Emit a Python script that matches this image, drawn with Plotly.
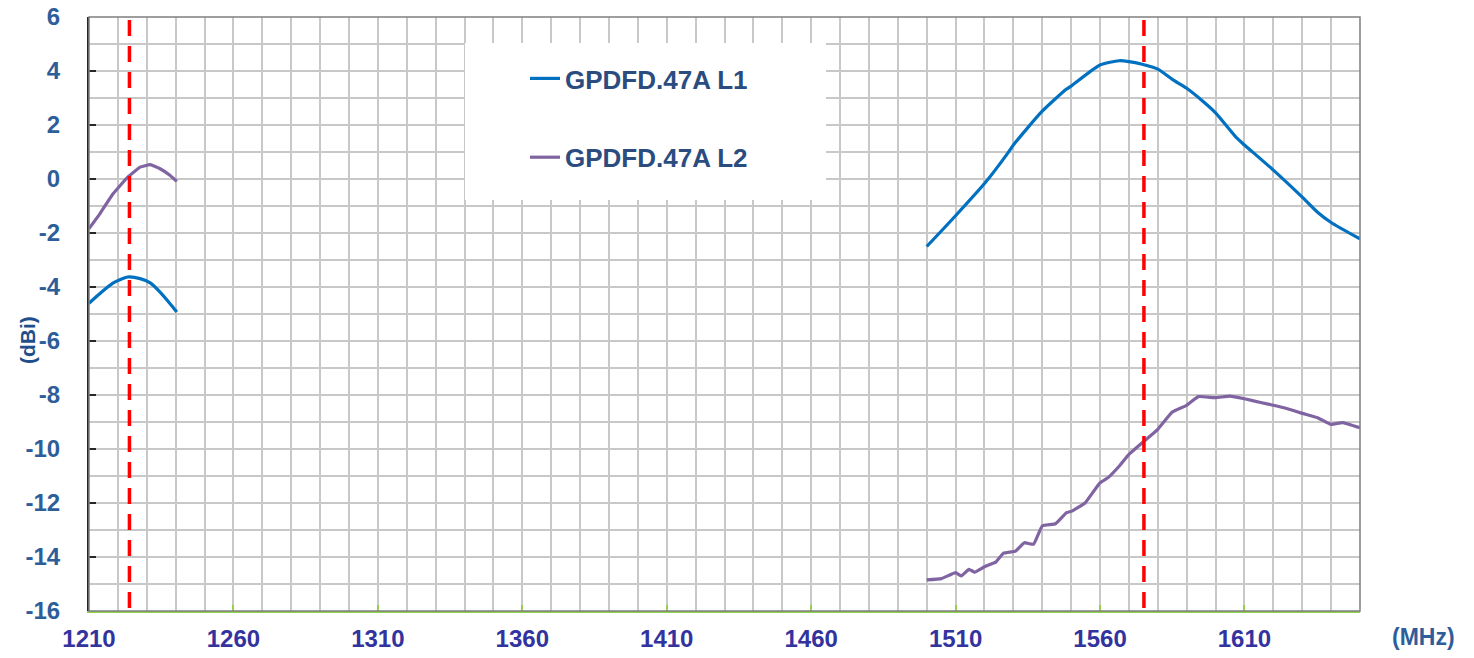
import plotly.graph_objects as go

# ---- data ----
freq_low = [1210, 1213.8, 1218.4, 1223.4, 1227.7, 1231.2, 1234.6, 1238, 1240.4]
l1_low = [-4.60, -4.24, -3.85, -3.63, -3.69, -3.85, -4.19, -4.61, -4.93]
l2_low = [-1.84, -1.28, -0.54, 0.07, 0.44, 0.53, 0.38, 0.14, -0.09]

freq_l1_high = [1500, 1510, 1520, 1528, 1530, 1540, 1548.3, 1550, 1560, 1566.6, 1570,
                1574.6, 1580, 1585, 1590, 1595.6, 1600, 1607.4, 1610, 1620, 1630,
                1635.3, 1640, 1650]
l1_high = [-2.50, -1.36, -0.17, 0.95, 1.26, 2.51, 3.32, 3.44, 4.22, 4.38, 4.35,
           4.25, 4.07, 3.69, 3.36, 2.88, 2.45, 1.51, 1.26, 0.33, -0.67,
           -1.23, -1.61, -2.22]

freq_l2_high = [1500, 1505.1, 1510, 1512, 1514.6, 1516.6, 1520, 1523.9, 1526.6, 1530.8,
                1533.8, 1537, 1540, 1544.6, 1548.4, 1550.3, 1554.9, 1560, 1562.8,
                1566.7, 1570, 1574.6, 1580, 1585, 1590, 1594, 1600, 1605, 1610,
                1615.6, 1620, 1624.9, 1630, 1635.3, 1640, 1643.9, 1650]
l2_high = [-14.85, -14.80, -14.58, -14.70, -14.46, -14.56, -14.36, -14.19, -13.86, -13.78,
           -13.47, -13.53, -12.85, -12.77, -12.36, -12.30, -11.99, -11.25, -11.06,
           -10.63, -10.20, -9.77, -9.27, -8.63, -8.38, -8.06, -8.10, -8.04, -8.14,
           -8.28, -8.38, -8.51, -8.68, -8.84, -9.09, -9.02, -9.21]

marker_freqs = [1224, 1575.2]           # red dashed reference lines (MHz)
x_ticks = [1210, 1260, 1310, 1360, 1410, 1460, 1510, 1560, 1610]
y_ticks = [6, 4, 2, 0, -2, -4, -6, -8, -10, -12, -14, -16]
series_names = ["GPDFD.47A L1", "GPDFD.47A L2"]

FONT = "Liberation Sans, Arial, sans-serif"

fig = go.Figure()
fig.add_trace(go.Scatter(
    x=freq_low + [None] + freq_l1_high, y=l1_low + [None] + l1_high,
    mode="lines", name=series_names[0], legendgroup="a",
    line=dict(color="#0070C0", width=3.2, shape="spline", smoothing=0.6),
    connectgaps=False))
fig.add_trace(go.Scatter(
    x=freq_low + [None] + freq_l2_high, y=l2_low + [None] + l2_high,
    mode="lines", name=series_names[1], legendgroup="b",
    line=dict(color="#8064A2", width=3.2, shape="spline", smoothing=0.3),
    connectgaps=False))

grid = "#C8C8C8"
fig.update_xaxes(
    range=[1210, 1650], tickmode="array", tickvals=x_ticks,
    ticktext=[str(v) for v in x_ticks],
    showgrid=True, gridcolor=grid, gridwidth=1.5,
    minor=dict(tick0=1210, dtick=10, showgrid=True, gridcolor=grid, gridwidth=1.5),
    showline=True, linecolor="#92D050", linewidth=2,
    ticks="inside", ticklen=6, tickwidth=1.5, tickcolor="#92D050",
    tickfont=dict(family=FONT, size=24, color="#3333A0", weight="bold"),
    ticklabelstandoff=5, ticklabeloverflow="allow",
    zeroline=False, fixedrange=True, automargin=False)
fig.update_yaxes(
    range=[-16, 6], tickmode="array", tickvals=y_ticks,
    ticktext=[str(v) for v in y_ticks],
    showgrid=True, gridcolor=grid, gridwidth=1.5,
    minor=dict(tick0=0, dtick=1, showgrid=True, gridcolor=grid, gridwidth=1.5),
    showline=True, linecolor="#262626", linewidth=2,
    ticks="inside", ticklen=7, tickwidth=1.5, tickcolor="#262626",
    tickfont=dict(family=FONT, size=24, color="#2E5E9A", weight="bold"),
    ticklabelstandoff=22, ticklabeloverflow="allow",
    zeroline=False, fixedrange=True, automargin=False)

# plot area in page pixels: x 89..1360, y 17..611 (page body has an 8px offset)
PL, PT, PW, PH = 89, 17, 1271, 594

def px(x):
    return (x - PL) / PW

def py(y):
    return 1 - (y - PT) / PH

shapes = []
shapes.append(dict(type="rect", xref="paper", yref="paper", x0=0, x1=1, y0=0, y1=1,
                   line=dict(color="#7F7F7F", width=1.5), layer="above"))
shapes.append(dict(type="rect", xref="paper", yref="paper",
                   x0=px(465), x1=px(826), y0=py(200), y1=py(43),
                   fillcolor="white", line=dict(width=0), layer="above"))
for f in marker_freqs:
    shapes.append(dict(type="line", xref="x", yref="paper", x0=f, x1=f, y0=0.005, y1=1,
                       line=dict(color="#FF0000", width=3.5, dash="16px,10px"), layer="above"))

fig.update_layout(
    width=1474, height=658, autosize=False,
    margin=dict(l=PL - 8, r=1474 - (PL + PW - 8), t=PT - 8, b=658 - (PT + PH - 8),
                autoexpand=False),
    paper_bgcolor="white", plot_bgcolor="white",
    shapes=shapes,
    showlegend=True,
    legend=dict(x=px(525), y=py(55), xanchor="left", yanchor="top",
                bgcolor="rgba(0,0,0,0)", borderwidth=0,
                font=dict(family=FONT, size=26, color="#2B4C7E", weight="bold"),
                traceorder="grouped", tracegroupgap=42, itemwidth=30),
    annotations=[
        dict(text="(dBi)", xref="paper", yref="paper", x=px(27), y=py(340),
             textangle=-90, showarrow=False, xanchor="center", yanchor="middle",
             font=dict(family=FONT, size=21, color="#1F4E8C", weight="bold")),
        dict(text="(MHz)", xref="paper", yref="paper", x=px(1423), y=py(637),
             showarrow=False, xanchor="center", yanchor="middle",
             font=dict(family=FONT, size=23, color="#2E5E9A", weight="bold")),
    ],
)

fig.write_html("out.html")
